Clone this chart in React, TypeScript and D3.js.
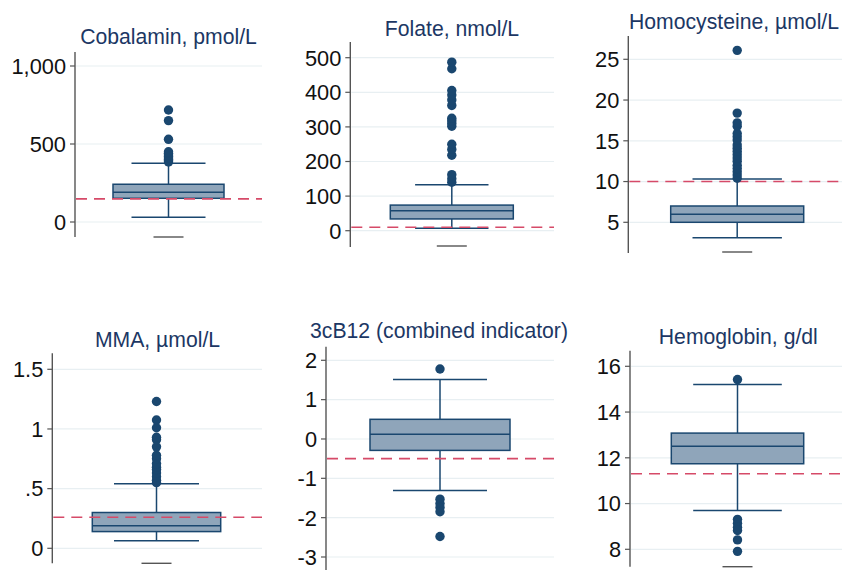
import React from 'react';
import * as d3 from 'd3';

// one entry per panel, in reading order
const titles = [
  'Cobalamin, pmol/L',
  'Folate, nmol/L',
  'Homocysteine, µmol/L',
  'MMA, µmol/L',
  '3cB12 (combined indicator)',
  'Hemoglobin, g/dl',
];

const tickValues = [
  [0, 500, 1000],
  [0, 100, 200, 300, 400, 500],
  [5, 10, 15, 20, 25],
  [0, 0.5, 1, 1.5],
  [-3, -2, -1, 0, 1, 2],
  [8, 10, 12, 14, 16],
];

const tickLabels = [
  ['0', '500', '1,000'],
  ['0', '100', '200', '300', '400', '500'],
  ['5', '10', '15', '20', '25'],
  ['0', '.5', '1', '1.5'],
  ['-3', '-2', '-1', '0', '1', '2'],
  ['8', '10', '12', '14', '16'],
];

// box stats: lower whisker, q1, median, q3, upper whisker
const lowerWhisker = [30, 7, 3.1, 0.064, -1.31, 9.7];
const q1 = [152, 34, 5.0, 0.14, -0.29, 11.74];
const median = [190, 58, 6.0, 0.19, 0.12, 12.51];
const q3 = [242, 74, 7.0, 0.30, 0.5, 13.08];
const upperWhisker = [376, 133, 10.3, 0.54, 1.51, 15.2];

// reference cut-offs (dashed lines)
const cutoffs = [148, 10, 10, 0.26, -0.5, 11.3];

const outliers = [
  [385, 392, 400, 410, 420, 430, 440, 450, 530, 650, 718],
  [140, 150, 162, 218, 235, 250, 302, 310, 318, 325, 362, 378, 392, 405, 468, 487],
  [10.4, 10.8, 11.2, 11.6, 12.0, 12.5, 12.9, 13.3, 13.7, 14.1, 14.5, 15.1, 15.5, 15.9, 16.8, 17.2, 18.4, 26.1],
  [0.55, 0.57, 0.6, 0.63, 0.66, 0.68, 0.71, 0.75, 0.78, 0.85, 0.91, 0.93, 1.01, 1.075, 1.23],
  [1.78, -1.53, -1.64, -1.74, -1.85, -2.48],
  [15.42, 9.31, 9.14, 8.96, 8.82, 8.41, 7.91],
];

// pixel layout of each panel (axis line, plot extent, box width, title spot)
const layout = [
  { ax: 75, gx: 262, top: 52, bottom: 237, yLo: 222, yHi: 66, bl: 113, br: 224, cap: 37, stub: 237, tx: 168.5, ty: 44 },
  { ax: 350.3, gx: 554, top: 42, bottom: 247, yLo: 230.7, yHi: 57.7, bl: 390.3, br: 513.3, cap: 36.7, stub: 246, tx: 452, ty: 35.5 },
  { ax: 628.3, gx: 842, top: 36, bottom: 253, yLo: 222.3, yHi: 59.3, bl: 670.7, br: 803.7, cap: 44.7, stub: 252, tx: 734, ty: 29 },
  { ax: 52.3, gx: 262, top: 353.3, bottom: 563.3, yLo: 548.3, yHi: 369.3, bl: 92.3, br: 220.7, cap: 42.5, stub: 563.3, tx: 157.5, ty: 347 },
  { ax: 326, gx: 554, top: 346.7, bottom: 572, yLo: 557, yHi: 360.3, bl: 370, br: 510, cap: 47, stub: null, tx: 439, ty: 337.5 },
  { ax: 630, gx: 842, top: 350.7, bottom: 566.7, yLo: 549.3, yHi: 366.3, bl: 671.3, br: 803.7, cap: 44.3, stub: 566.7, tx: 738.3, ty: 344 },
];

const NAVY = '#1a476f';
const FILL = '#8fa5ba';
const RED = '#d64a68';
const GRID = '#e8eff2';
const FONT = '"Liberation Sans", Arial, sans-serif';

function Panel({ i }: { i: number }) {
  const L = layout[i];
  const ticks = tickValues[i];
  const y = d3.scaleLinear()
    .domain([ticks[0], ticks[ticks.length - 1]])
    .range([L.yLo, L.yHi]);
  const cx = (L.bl + L.br) / 2;

  return (
    <g>
      <text x={L.tx} y={L.ty} textAnchor="middle" fontSize={21.2} fill="#1c3764" fontFamily={FONT}>
        {titles[i]}
      </text>
      {ticks.map((t, k) => (
        <g key={k}>
          <line x1={L.ax + 1} x2={L.gx} y1={y(t)} y2={y(t)} stroke={GRID} strokeWidth={1.2} />
          <line x1={L.ax - 5} x2={L.ax} y1={y(t)} y2={y(t)} stroke="#555" strokeWidth={1.2} />
          <text x={L.ax - 9} y={y(t)} dy="0.36em" textAnchor="end" fontSize={21.8} fill="#111" fontFamily={FONT}>
            {tickLabels[i][k]}
          </text>
        </g>
      ))}
      <line x1={L.ax} x2={L.ax} y1={L.top} y2={L.bottom} stroke="#555" strokeWidth={1.4} />
      {L.stub != null && (
        <line x1={cx - 15} x2={cx + 15} y1={L.stub} y2={L.stub} stroke="#555" strokeWidth={1.4} />
      )}
      {/* whiskers */}
      <line x1={cx} x2={cx} y1={y(upperWhisker[i])} y2={y(q3[i])} stroke={NAVY} strokeWidth={1.5} />
      <line x1={cx} x2={cx} y1={y(q1[i])} y2={y(lowerWhisker[i])} stroke={NAVY} strokeWidth={1.5} />
      <line x1={cx - L.cap} x2={cx + L.cap} y1={y(upperWhisker[i])} y2={y(upperWhisker[i])} stroke={NAVY} strokeWidth={1.5} />
      <line x1={cx - L.cap} x2={cx + L.cap} y1={y(lowerWhisker[i])} y2={y(lowerWhisker[i])} stroke={NAVY} strokeWidth={1.5} />
      {/* box */}
      <rect x={L.bl} width={L.br - L.bl} y={y(q3[i])} height={y(q1[i]) - y(q3[i])}
        fill={FILL} stroke={NAVY} strokeWidth={1.5} />
      <line x1={L.bl} x2={L.br} y1={y(median[i])} y2={y(median[i])} stroke={NAVY} strokeWidth={1.5} />
      {/* cut-off */}
      <line x1={L.ax + 1} x2={L.gx} y1={y(cutoffs[i])} y2={y(cutoffs[i])}
        stroke={RED} strokeWidth={1.6} strokeDasharray="11 7" />
      {outliers[i].map((v, k) => (
        <circle key={k} cx={cx} cy={y(v)} r={4.7} fill={NAVY} />
      ))}
    </g>
  );
}

export default function App() {
  return (
    <svg width={844} height={570} style={{ position: 'absolute', left: 0, top: 0, background: '#fff' }}>
      <rect width={844} height={570} fill="#fff" />
      {titles.map((_, i) => <Panel key={i} i={i} />)}
    </svg>
  );
}
